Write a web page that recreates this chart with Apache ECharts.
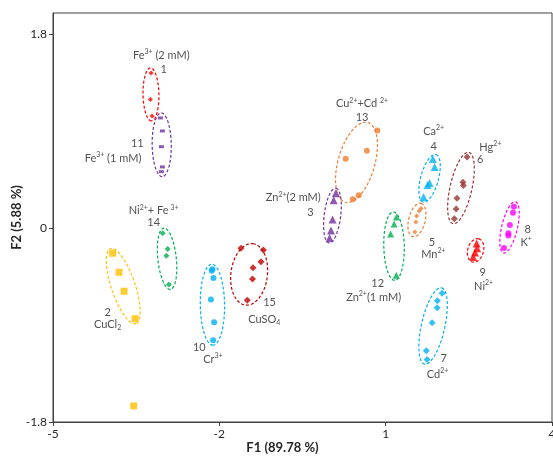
<!DOCTYPE html>
<html><head><meta charset="utf-8">
<script src="https://cdn.jsdelivr.net/npm/echarts@6/dist/echarts.min.js"></script>
<style>html,body{margin:0;padding:0;background:#fff}#c{width:553px;height:458px}</style>
</head><body><div id="c"></div>
<script>
// Axis ticks
const xTicks = [-5, -2, 1, 4];
const yTicks = [-1.8, 0, 1.8];

// Cluster scores [F1, F2]
const fe2mM  = [[-3.231,1.443],[-3.244,1.197],[-3.213,1.044]];
const cuCl2  = [[-3.924,-0.232],[-3.809,-0.409],[-3.718,-0.585],[-3.520,-0.840]];
const cuCl2Outlier = [[-3.545,-1.651]];
const zn2mM  = [[0.101,0.325],[0.063,0.260],[0.042,0.082],[0.014,-0.020],[-0.012,-0.090]];
const ca     = [[1.852,0.644],[1.883,0.570],[1.792,0.421],[1.756,0.402],[1.684,0.291]];
const mn     = [[1.639,0.184],[1.603,0.161],[1.558,0.114],[1.545,0.059],[1.527,-0.034]];
const hg     = [[2.469,0.661],[2.394,0.428],[2.401,0.398],[2.285,0.280],[2.271,0.178],[2.238,0.088]];
const cd     = [[2.018,-0.603],[1.933,-0.673],[1.928,-0.738],[1.838,-0.878],[1.733,-1.138],[1.747,-1.219]];
const kPlus  = [[3.314,0.201],[3.296,0.145],[3.240,0.031],[3.213,-0.046],[3.213,-0.067],[3.134,-0.183]];
const ni     = [[2.641,-0.141],[2.650,-0.186],[2.611,-0.225],[2.578,-0.267]];
const cr     = [[-2.124,-0.381],[-2.137,-0.395],[-2.106,-0.462],[-2.152,-0.662],[-2.094,-0.874],[-2.112,-1.040]];
const fe1mM  = [[-3.063,1.025],[-3.027,0.904],[-3.045,0.758],[-3.027,0.570],[-3.045,0.526]];
const zn1mM  = [[1.197,0.105],[1.152,0.040],[1.089,-0.053],[1.191,-0.437]];
const cuCd   = [[0.850,0.909],[0.661,0.721],[0.280,0.647],[0.514,0.307],[0.408,0.270]];
const niFe   = [[-3.022,-0.046],[-2.931,-0.192],[-2.955,-0.255],[-2.910,-0.522]];
const cuSO4  = [[-1.610,-0.186],[-1.204,-0.202],[-1.249,-0.310],[-1.393,-0.367],[-1.402,-0.471],[-1.496,-0.669]];

// Annotation texts anchored in data coordinates
const annotations = [
  [-3.047, 1.604, '{n|Fe}{s|3+}{n| (2 mM)}'], [-3.005, 1.480, '{n|1}'],
  [-3.479, 0.790, '{n|11}'], [-3.918, 0.651, '{n|Fe}{s|3+}{n| (1 mM)}'],
  [-3.185, 0.161, '{n|Ni}{s|2+}{n|+ Fe}{s| 3+}'], [-3.185, 0.056, '{n|14}'],
  [-4.015, -0.781, '{n|2}'], [-4.015, -0.894, '{n|CuCl}{b|2}'],
  [-2.361, -1.110, '{n|10}'], [-2.114, -1.217, '{n|Cr}{s|3+}'],
  [-1.093, -0.688, '{n|15}'], [-1.189, -0.843, '{n|CuSO}{b|4}'],
  [0.574, 1.155, '{n|Cu}{s|2+}{n|+Cd }{s|2+}'], [0.574, 1.032, '{n|13}'],
  [-0.666, 0.282, '{n|Zn}{s|2+}{n|(2 mM)}'], [-0.359, 0.151, '{n|3}'],
  [1.865, 0.898, '{n|Ca}{s|2+}'], [1.865, 0.758, '{n|4}'],
  [2.888, 0.753, '{n|Hg}{s|2+}'], [2.707, 0.635, '{n|6}'],
  [1.836, -0.134, '{n|5}'], [1.860, -0.242, '{n|Mn}{s|2+}'],
  [0.855, -0.511, '{n|12}'], [0.783, -0.641, '{n|Zn}{s|2+}{n|(1 mM)}'],
  [2.749, -0.413, '{n|9}'], [2.767, -0.536, '{n|Ni}{s|2+}'],
  [3.561, -0.007, '{n|8}'], [3.532, -0.132, '{n|K}{s|+}'],
  [2.046, -1.208, '{n|7}'], [1.937, -1.357, '{n|Cd}{s|2+}']
];

const groups = [
  {name:'Fe2', data:fe2mM, color:'#FF0000', symbol:'diamond', size:5, ring:'#FF0000'},
  {name:'CuCl2', data:cuCl2, color:'#FFC000', symbol:'rect', size:7, ring:'#FFC000'},
  {name:'Zn2', data:zn2mM, color:'#7030A0', symbol:'triangle', size:8, ring:'#7030A0'},
  {name:'Ca', data:ca, color:'#00B0F0', symbol:'triangle', size:8, ring:'#00B0F0'},
  {name:'Mn', data:mn, color:'#ED7D31', symbol:'diamond', size:5, ring:'#ED7D31'},
  {name:'Hg', data:hg, color:'#943634', symbol:'diamond', size:7, ring:'#943634'},
  {name:'Cd', data:cd, color:'#00B0F0', symbol:'diamond', size:7, ring:'#00B0F0'},
  {name:'K', data:kPlus, color:'#FF00FF', symbol:'circle', size:6, ring:'#FF00FF'},
  {name:'Ni', data:ni, color:'#FF0000', symbol:'triangle', size:8, ring:'#FF0000'},
  {name:'Cr', data:cr, color:'#00B0F0', symbol:'circle', size:6, ring:'#00B0F0'},
  {name:'Fe1', data:fe1mM, color:'#7030A0', symbol:'rect', size:[5,3], ring:'#7030A0'},
  {name:'Zn1', data:zn1mM, color:'#00B050', symbol:'triangle', size:7, ring:'#00B050'},
  {name:'CuCd', data:cuCd, color:'#ED7D31', symbol:'circle', size:6, ring:'#ED7D31'},
  {name:'NiFe', data:niFe, color:'#00B050', symbol:'diamond', size:6, ring:'#00B050'},
  {name:'CuSO4', data:cuSO4, color:'#C00000', symbol:'diamond', size:7, ring:'#C00000'}
];

function ellipseItem(params, api) {
  const g = groups[api.value(2)];
  const pts = g.data.map(p => api.coord(p));
  const n = pts.length;
  let mx = 0, my = 0;
  pts.forEach(p => { mx += p[0]; my += p[1]; });
  mx /= n; my /= n;
  let sxx = 0, syy = 0, sxy = 0;
  pts.forEach(p => { const dx = p[0]-mx, dy = p[1]-my; sxx += dx*dx; syy += dy*dy; sxy += dx*dy; });
  const th = 0.5 * Math.atan2(2*sxy, sxx - syy);
  const e1 = [Math.cos(th), Math.sin(th)], e2 = [-Math.sin(th), Math.cos(th)];
  let umin = Infinity, umax = -Infinity, vmin = Infinity, vmax = -Infinity;
  pts.forEach(p => {
    const dx = p[0]-mx, dy = p[1]-my;
    const u = dx*e1[0] + dy*e1[1], v = dx*e2[0] + dy*e2[1];
    umin = Math.min(umin,u); umax = Math.max(umax,u); vmin = Math.min(vmin,v); vmax = Math.max(vmax,v);
  });
  const cu = (umin+umax)/2, cv = (vmin+vmax)/2;
  const cx = mx + e1[0]*cu + e2[0]*cv, cy = my + e1[1]*cu + e2[1]*cv;
  const a = (umax-umin)/2 + 5;
  const b = Math.max((vmax-vmin)/2 + 7, 0.3*a);
  const poly = [];
  for (let i = 0; i < 72; i++) {
    const t = i/72*Math.PI*2;
    const u = a*Math.cos(t), v = b*Math.sin(t);
    poly.push([cx + e1[0]*u + e2[0]*v, cy + e1[1]*u + e2[1]*v]);
  }
  return {type:'polygon', shape:{points:poly},
    style:{fill:'none', stroke:g.ring, lineWidth:1.2, lineDash:[3,2]}};
}

const FONT = 'Lato, "Open Sans", sans-serif';
const series = [];
series.push({
  type:'custom', renderItem: ellipseItem, silent:true, z:1,
  data: groups.map((g,i) => [g.data[0][0], g.data[0][1], i])
});
groups.forEach(g => {
  series.push({type:'scatter', name:g.name, data:g.data, symbol:g.symbol, symbolSize:g.size,
    itemStyle:{color:g.color}, z:3, silent:true});
});
series.push({type:'scatter', data:cuCl2Outlier, symbol:'rect', symbolSize:7, itemStyle:{color:'#FFC000'}, z:3, silent:true});
series.push({
  type:'scatter', symbolSize:0, silent:true, z:4,
  data: annotations.map(a => ({value:[a[0], a[1]], txt:a[2]})),
  label:{show:true, position:'inside', formatter: p => p.data.txt,
    rich:{
      n:{fontFamily:FONT, fontSize:11, color:'#262626', lineHeight:14},
      s:{fontFamily:FONT, fontSize:7, color:'#262626', lineHeight:7, verticalAlign:'top'},
      b:{fontFamily:FONT, fontSize:7, color:'#262626', lineHeight:7, verticalAlign:'bottom'}
    }}
});

const chart = echarts.init(document.getElementById('c'), null, {renderer:'canvas'});
chart.setOption({
  animation:false,
  backgroundColor:'#fff',
  grid:{left:53, right:1, top:13, bottom:36, show:true, borderColor:'#404040', borderWidth:1,
    containLabel:false, outerBoundsMode:'none'},
  xAxis:{type:'value', min:xTicks[0], max:xTicks[xTicks.length-1], interval:3,
    name:'F1 (89.78 %)', nameLocation:'middle', nameGap:19, nameMoveOverlap:false,
    nameTextStyle:{fontFamily:FONT, fontSize:13, fontWeight:'bold', color:'#262626', padding:[0,40,0,0]},
    axisLine:{show:true, onZero:false, lineStyle:{color:'#404040', width:1}},
    axisTick:{show:true, length:4, lineStyle:{color:'#404040'}},
    axisLabel:{fontFamily:FONT, fontSize:12, color:'#262626', margin:6},
    splitLine:{show:false}},
  yAxis:{type:'value', min:yTicks[0], max:2.0, interval:1.8,
    name:'F2 (5.88 %)', nameLocation:'middle', nameGap:30, nameMoveOverlap:false,
    nameTextStyle:{fontFamily:FONT, fontSize:13, fontWeight:'bold', color:'#262626'},
    axisLine:{show:true, onZero:false, lineStyle:{color:'#404040', width:1}},
    axisTick:{show:true, length:4, customValues:yTicks, lineStyle:{color:'#404040'}},
    axisLabel:{fontFamily:FONT, fontSize:12, color:'#262626', margin:6, customValues:yTicks,
      formatter: v => (v === 0 ? '0' : v.toFixed(1))},
    splitLine:{show:false}},
  series: series
});
</script></body></html>
